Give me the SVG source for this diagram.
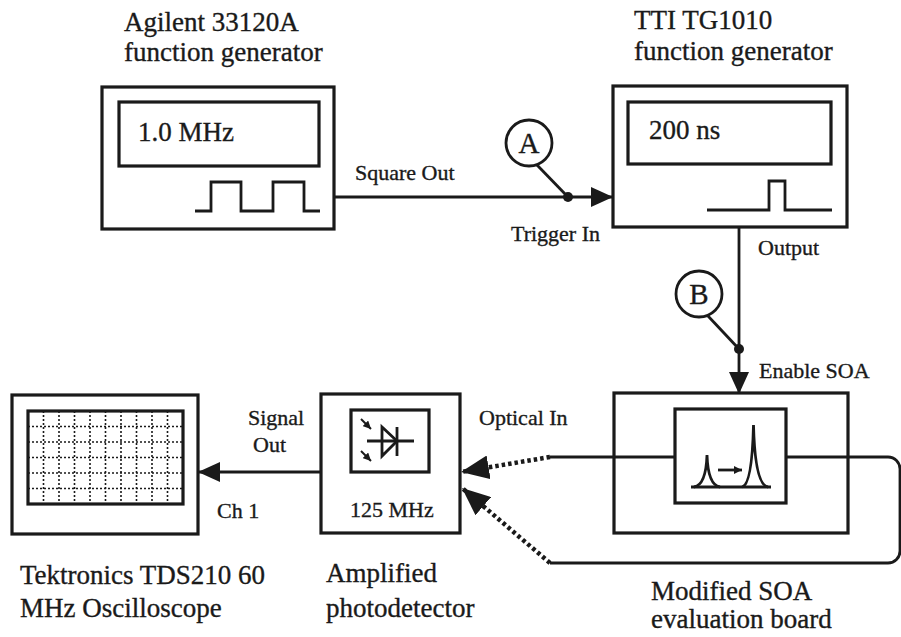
<svg xmlns="http://www.w3.org/2000/svg" width="901" height="637" viewBox="0 0 901 637">
  <style>
    .box { fill: none; stroke: #1a1a1a; stroke-width: 3.2; }
    .ln { fill: none; stroke: #1a1a1a; stroke-width: 2.8; }
    .thin { fill: none; stroke: #1a1a1a; stroke-width: 2; }
    .dot { fill: none; stroke: #1a1a1a; stroke-width: 4.5; stroke-dasharray: 3.5 3; }
    .grid { fill: none; stroke: #1a1a1a; stroke-width: 1.6; stroke-dasharray: 2 2; }
    text { font-family: "Liberation Serif", "Times New Roman", serif; fill: #1a1a1a; stroke: #1a1a1a; stroke-width: 0.35; }
    .big { font-size: 27px; }
    .lbl { font-size: 22px; }
    .tag { font-size: 29px; }
  </style>
  <defs>
    <marker id="arr" viewBox="0 0 22 20" markerWidth="22" markerHeight="20" refX="22" refY="10" orient="auto" markerUnits="userSpaceOnUse">
      <path d="M0 0 L22 10 L0 20 Z" fill="#1a1a1a"/>
    </marker>
    <marker id="arrBig" viewBox="0 0 28 24" markerWidth="28" markerHeight="24" refX="28" refY="12" orient="auto" markerUnits="userSpaceOnUse">
      <path d="M0 0 L28 12 L0 24 Z" fill="#1a1a1a"/>
    </marker>
    <marker id="arrTiny" viewBox="0 0 8 8" markerWidth="8" markerHeight="8" refX="8" refY="4" orient="auto" markerUnits="userSpaceOnUse">
      <path d="M0 0 L8 4 L0 8 Z" fill="#1a1a1a"/>
    </marker>
  </defs>
  <rect width="901" height="637" fill="#ffffff"/>

  <!-- Agilent 33120A function generator -->
  <g id="agilent">
    <text class="big" x="124" y="31">Agilent 33120A</text>
    <text class="big" x="124" y="61">function generator</text>
    <rect class="box" x="102" y="87" width="232" height="142"/>
    <rect class="box" x="119" y="102" width="200" height="64"/>
    <text class="big" x="138" y="141">1.0 MHz</text>
    <path class="ln" d="M195 211 H211 V182 H241 V211 H273 V182 H304 V211 H320"/>
  </g>

  <!-- TTI TG1010 function generator -->
  <g id="tti">
    <text class="big" x="634" y="29">TTI TG1010</text>
    <text class="big" x="634" y="60">function generator</text>
    <rect class="box" x="613" y="86" width="234" height="141"/>
    <rect class="box" x="628" y="102" width="203" height="62"/>
    <text class="big" x="649" y="139">200 ns</text>
    <path class="ln" d="M707 210 H769 V181 H785 V210 H832"/>
  </g>

  <!-- Modified SOA evaluation board -->
  <g id="soa">
    <rect class="box" x="614" y="393" width="234" height="140"/>
    <rect class="box" x="675" y="409" width="111" height="94"/>
    <path class="ln" d="M691 487 H771"/>
    <path class="ln" d="M694 487 Q706 485 707 455 Q708 485 720 487"/>
    <path class="ln" d="M742 487 Q752 485 753.5 425 Q755 485 768 487"/>
    <line class="ln" x1="718" y1="470" x2="742" y2="470" marker-end="url(#arrTiny)"/>
    <text class="big" x="651" y="600">Modified SOA</text>
    <text class="big" x="651" y="628">evaluation board</text>
  </g>

  <!-- Amplified photodetector -->
  <g id="photodetector">
    <rect class="box" x="321" y="394" width="139" height="139"/>
    <rect class="box" x="351" y="410" width="78" height="62"/>
    <path class="ln" d="M367 441 H414"/>
    <path class="ln" d="M382 427 V456 L397 441 Z"/>
    <path class="ln" d="M397 427 V456"/>
    <line class="thin" x1="361" y1="419" x2="371" y2="429" marker-end="url(#arrTiny)"/>
    <line class="thin" x1="361" y1="451" x2="371" y2="461" marker-end="url(#arrTiny)"/>
    <text class="lbl" x="350" y="517">125 MHz</text>
    <text class="big" x="326" y="582">Amplified</text>
    <text class="big" x="326" y="617">photodetector</text>
  </g>

  <!-- Tektronics TDS210 oscilloscope -->
  <g id="oscilloscope">
    <rect class="box" x="12" y="395" width="186" height="139"/>
    <rect class="box" x="28" y="411" width="155" height="93"/>
    <path class="grid" d="M43.5 411 V504 M59 411 V504 M74.5 411 V504 M90 411 V504 M105.5 411 V504 M121 411 V504 M136.5 411 V504 M152 411 V504 M167.5 411 V504"/>
    <path class="grid" d="M28 426.5 H183 M28 442 H183 M28 457.5 H183 M28 473 H183 M28 488.5 H183"/>
    <text class="big" x="20" y="584">Tektronics TDS210 60</text>
    <text class="big" x="20" y="617">MHz Oscilloscope</text>
  </g>

  <!-- Probe points -->
  <g id="probe-a">
    <circle class="ln" cx="529" cy="143" r="23"/>
    <text class="tag" x="529" y="153" text-anchor="middle">A</text>
    <line class="ln" x1="537" y1="165" x2="568" y2="197"/>
    <circle cx="568" cy="197" r="5" fill="#1a1a1a"/>
  </g>
  <g id="probe-b">
    <circle class="ln" cx="699" cy="294" r="23"/>
    <text class="tag" x="699" y="304" text-anchor="middle">B</text>
    <line class="ln" x1="708" y1="316" x2="739" y2="349"/>
    <circle cx="739" cy="349" r="5" fill="#1a1a1a"/>
  </g>

  <!-- Connectors -->
  <g id="connectors">
    <line class="ln" x1="334" y1="197" x2="613" y2="197" marker-end="url(#arr)"/>
    <text class="lbl" x="355" y="180">Square Out</text>
    <text class="lbl" x="511" y="241">Trigger In</text>

    <line class="ln" x1="739" y1="227" x2="739" y2="394" marker-end="url(#arr)"/>
    <text class="lbl" x="758" y="255">Output</text>
    <text class="lbl" x="759" y="378">Enable SOA</text>

    <line class="ln" x1="321" y1="472" x2="198" y2="472" marker-end="url(#arr)"/>
    <text class="lbl" x="248" y="425">Signal</text>
    <text class="lbl" x="253" y="452">Out</text>
    <text class="lbl" x="217" y="518">Ch 1</text>

    <!-- optical fibre loop through the SOA -->
    <path class="ln" d="M550 457 H675"/>
    <path class="ln" d="M786 457 H888 A12 12 0 0 1 900 469 V551 A12 12 0 0 1 888 563 H550"/>
    <line class="dot" x1="550" y1="457" x2="461" y2="472" marker-end="url(#arrBig)"/>
    <line class="dot" x1="550" y1="563" x2="462" y2="488" marker-end="url(#arrBig)"/>
    <text class="lbl" x="479" y="425">Optical In</text>
  </g>
</svg>
